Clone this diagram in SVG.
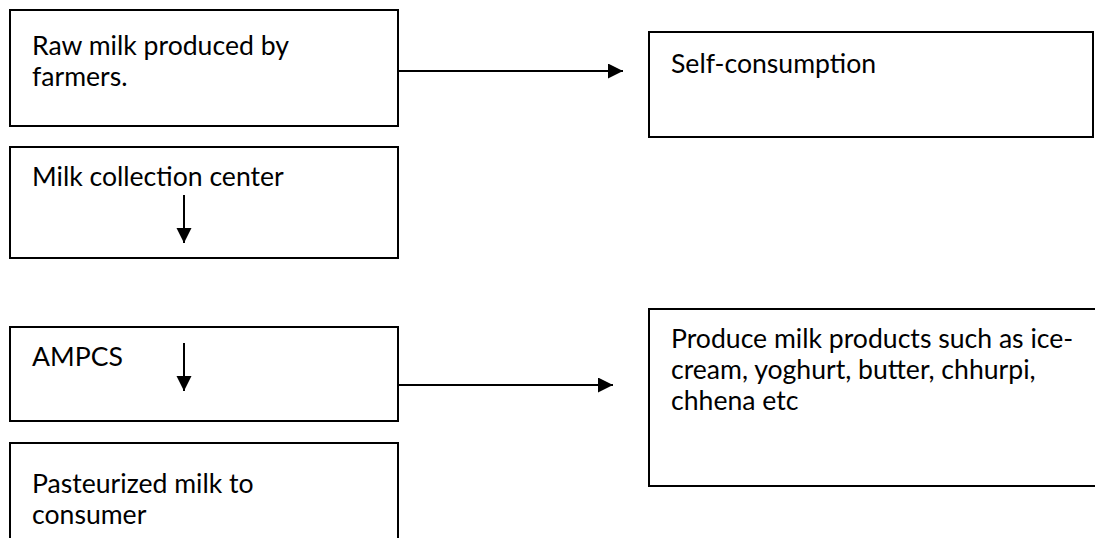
<svg xmlns="http://www.w3.org/2000/svg" width="1095" height="538" viewBox="0 0 1095 538">
<style>
.box{fill:#fff;stroke:#000;stroke-width:2}
.t{font-family:Lato,"Liberation Sans",sans-serif;font-size:26.6px;fill:#000}
.c{stroke:#000;stroke-width:2;fill:none}
</style>
<defs>
<marker id="ah" markerWidth="16" markerHeight="16" refX="15" refY="7.5" orient="auto" markerUnits="userSpaceOnUse">
<path d="M0,0 L15,7.5 L0,15 Z" fill="#000"/>
</marker>
</defs>
<rect width="1095" height="538" fill="#fff"/>
<g id="n1"><rect class="box" x="10" y="10" width="388" height="116"/><text class="t" x="32" y="55">Raw milk produced by</text><text class="t" x="32" y="86">farmers.</text></g>
<g id="n2"><rect class="box" x="10" y="147" width="388" height="111"/><text class="t" x="32" y="186">Milk collection center</text></g>
<g id="n3"><rect class="box" x="10" y="327" width="388" height="94"/><text class="t" x="32" y="366">AMPCS</text></g>
<g id="n4"><rect class="box" x="10" y="443" width="388" height="110"/><text class="t" x="32" y="493">Pasteurized milk to</text><text class="t" x="32" y="524">consumer</text></g>
<g id="n5"><rect class="box" x="649" y="32" width="444" height="105"/><text class="t" x="671" y="73">Self-consumption</text></g>
<g id="n6"><rect class="box" x="649" y="309" width="460" height="177"/><text class="t" x="671" y="348">Produce milk products such as ice-</text><text class="t" x="671" y="379">cream, yoghurt, butter, chhurpi,</text><text class="t" x="671" y="410">chhena etc</text></g>
<g id="connectors">
<line class="c" x1="398" y1="71" x2="623" y2="71" marker-end="url(#ah)"/>
<line class="c" x1="398" y1="385" x2="613" y2="385" marker-end="url(#ah)"/>
<line class="c" x1="184" y1="195" x2="184" y2="243" marker-end="url(#ah)"/>
<line class="c" x1="184" y1="343" x2="184" y2="391" marker-end="url(#ah)"/>
</g>
</svg>
